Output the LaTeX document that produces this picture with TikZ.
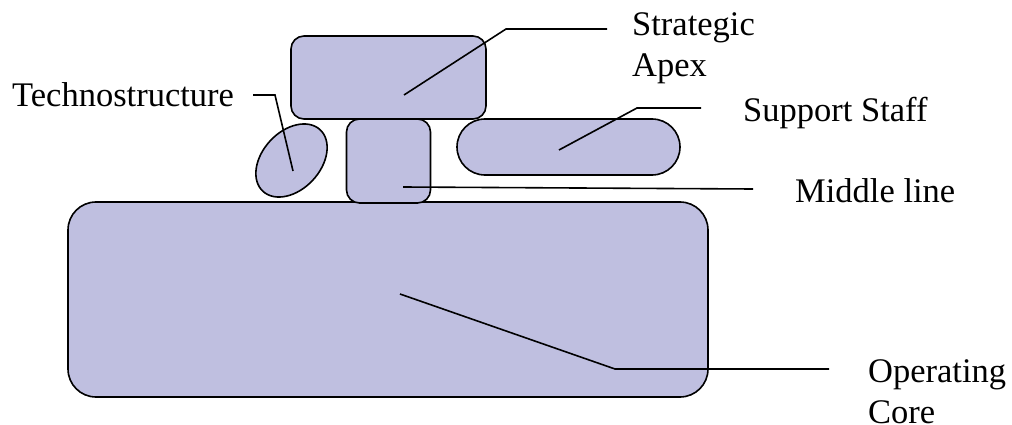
\documentclass[tikz,border=0pt]{standalone}
\usepackage{fontspec}
\setmainfont{Liberation Serif}
\usetikzlibrary{shapes.geometric}
\definecolor{partfill}{RGB}{191,191,224}
\begin{document}
\begin{tikzpicture}[x=1pt,y=-1pt,
part/.style={draw,line width=1.6pt,fill=partfill,inner sep=0pt},
lead/.style={line width=1.6pt},
lbl/.style={anchor=base west,inner sep=0pt,align=left,font=\fontsize{34.5}{41}\selectfont}]
\useasboundingbox (0,0) rectangle (1012,425);
\node[part,rounded corners=28pt,minimum width=640pt,minimum height=195pt] (core) at (388,299.5) {};
\node[part,rounded corners=13pt,minimum width=195pt,minimum height=83pt] (apex) at (388.5,77.5) {};
\node[part,rounded corners=13pt,minimum width=84pt,minimum height=84pt] (middle) at (388.5,161) {};
\node[part,rounded corners=28pt,minimum width=223pt,minimum height=56pt] (support) at (568.5,147) {};
\node[part,ellipse,minimum width=84pt,minimum height=58pt,rotate=47] (techno) at (291.5,160.5) {};
% two-line labels sit on the baseline of their last line
\node[lbl] (apexlbl) at (632,77) {Strategic\\Apex};
\node[lbl] (supportlbl) at (743,122) {Support Staff};
\node[lbl] (middlelbl) at (795,202) {Middle line};
\node[lbl] (corelbl) at (868,423) {Operating\\Core};
\node[lbl] (technolbl) at (12,107) {Technostructure};
\coordinate (apexin) at (404,95);
\coordinate (apexend) at (607,29);
\coordinate (supportin) at (559,150);
\coordinate (supportend) at (701,108);
\coordinate (middlein) at (403,187);
\coordinate (middleend) at (753,189);
\coordinate (corein) at (400,294);
\coordinate (coreend) at (829,369);
\coordinate (technoin) at (293,171);
\coordinate (technoend) at (253,95);
\draw[lead] (apexin) -- (506,29) -- (apexend);
\draw[lead] (supportin) -- (637,108) -- (supportend);
\draw[lead] (middlein) -- (middleend);
\draw[lead] (corein) -- (615,369) -- (coreend);
\draw[lead] (technoend) -- (275,95) -- (technoin);
\end{tikzpicture}
\end{document}
